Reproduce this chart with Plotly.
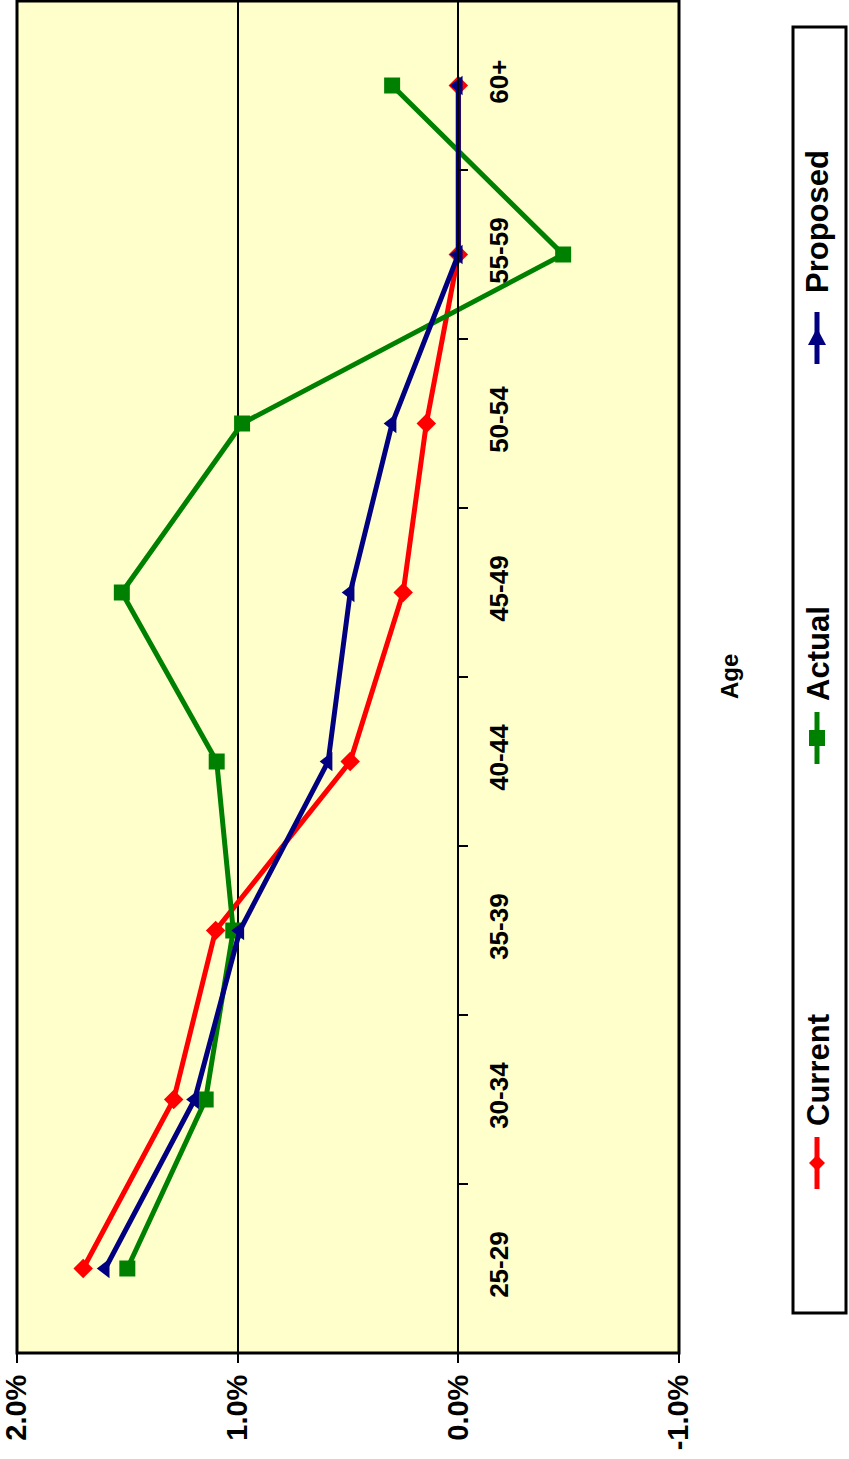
import plotly.graph_objects as go

# ---- data ----
ages = ["25-29", "30-34", "35-39", "40-44", "45-49", "50-54", "55-59", "60+"]
current = [1.70, 1.29, 1.10, 0.49, 0.25, 0.145, 0.0, 0.0]
actual = [1.50, 1.145, 1.02, 1.095, 1.525, 0.98, -0.475, 0.30]
proposed = [1.60, 1.195, 0.99, 0.59, 0.49, 0.30, 0.0, 0.0]
value_ticks = [2.0, 1.0, 0.0, -1.0]
value_tick_text = ["2.0%", "1.0%", "0.0%", "-1.0%"]

W, H = 849, 1459
L, R, T, B = 17, 170, 1, 106
PW, PH = W - L - R, H - T - B

def px(xp):
    return (xp - L) / PW

def py(yp):
    return (PH - (yp - T)) / PH

FONT = "Liberation Sans, Arial, sans-serif"
RED, GREEN, NAVY = "#FF0000", "#008000", "#000080"

fig = go.Figure()
series = [
    ("Current", current, RED, "diamond", 15),
    ("Actual", actual, GREEN, "square", 16),
    ("Proposed", proposed, NAVY, "triangle-left", 17),
]
for name, vals, col, sym, size in series:
    fig.add_trace(go.Scatter(
        x=vals, y=ages, name=name, mode="lines+markers",
        line=dict(color=col, width=5),
        marker=dict(symbol=sym, size=size, color=col, line=dict(width=0)),
        showlegend=False, cliponaxis=False,
    ))

zero_pos = (2.0 - 0.0) / 3.0

fig.update_layout(
    width=W, height=H,
    margin=dict(l=L, r=R, t=T, b=B, pad=0),
    paper_bgcolor="white",
    plot_bgcolor="#FFFFCC",
    font=dict(family=FONT, color="black"),
    xaxis=dict(
        range=[2.0, -1.0], tickvals=value_ticks, ticktext=value_tick_text,
        tickangle=-90, ticks="outside", ticklen=9, tickwidth=2, tickcolor="black",
        showgrid=True, gridcolor="black", gridwidth=2, zeroline=False,
        showline=False, tickfont=dict(size=29, family=FONT, weight="bold"),
        fixedrange=True,
    ),
    yaxis=dict(
        type="category", categoryorder="array", categoryarray=ages,
        range=[-0.5, 7.5], anchor="free", position=zero_pos, side="right",
        tickangle=-90, ticks="outside", tickson="boundaries", ticklen=9,
        tickwidth=2, tickcolor="black", showline=True, linecolor="black",
        linewidth=2, showgrid=False, zeroline=False, ticklabelstandoff=17,
        tickfont=dict(size=26, family=FONT, weight="bold"),
    ),
)

shapes = [
    dict(type="rect", xref="paper", yref="paper", x0=0, x1=1, y0=0, y1=1,
         line=dict(color="black", width=3), fillcolor="rgba(0,0,0,0)", layer="above"),
    # legend box
    dict(type="rect", xref="paper", yref="paper", x0=px(793), x1=px(846),
         y0=py(1313), y1=py(27), line=dict(color="black", width=3),
         fillcolor="white"),
]

annotations = [
    dict(text="<b>Age</b>", xref="paper", yref="paper", x=px(729), y=py(677),
         textangle=-90, showarrow=False, font=dict(size=24, family=FONT),
         xanchor="center", yanchor="middle"),
]

marker_paths = {
    "diamond": "M -8 0 L 0 8 L 8 0 L 0 -8 Z",
    "square": "M -8 -8 L 8 -8 L 8 8 L -8 8 Z",
    "triangle-left": "M 0 10 L 9 -7 L -9 -7 Z",
}
legend_items = [
    ("Current", RED, "diamond", 1163, 1070),
    ("Actual", GREEN, "square", 738, 654),
    ("Proposed", NAVY, "triangle-left", 338, 222),
]
for name, col, sym, sy, ty in legend_items:
    shapes.append(dict(type="line", xref="paper", yref="paper",
                       x0=px(817), x1=px(817), y0=py(sy - 26), y1=py(sy + 26),
                       line=dict(color=col, width=5)))
    shapes.append(dict(type="path", xref="paper", yref="paper",
                       xsizemode="pixel", ysizemode="pixel",
                       xanchor=px(817), yanchor=py(sy), path=marker_paths[sym],
                       fillcolor=col, line=dict(color=col, width=0)))
    annotations.append(dict(text=f"<b>{name}</b>", xref="paper", yref="paper",
                            x=px(818), y=py(ty), textangle=-90, showarrow=False,
                            font=dict(size=31, family=FONT),
                            xanchor="center", yanchor="middle"))

fig.update_layout(shapes=shapes, annotations=annotations)
fig.write_html("out.html", config={"displayModeBar": False},
               post_script="document.body.style.margin='0';document.body.style.overflow='hidden';")
